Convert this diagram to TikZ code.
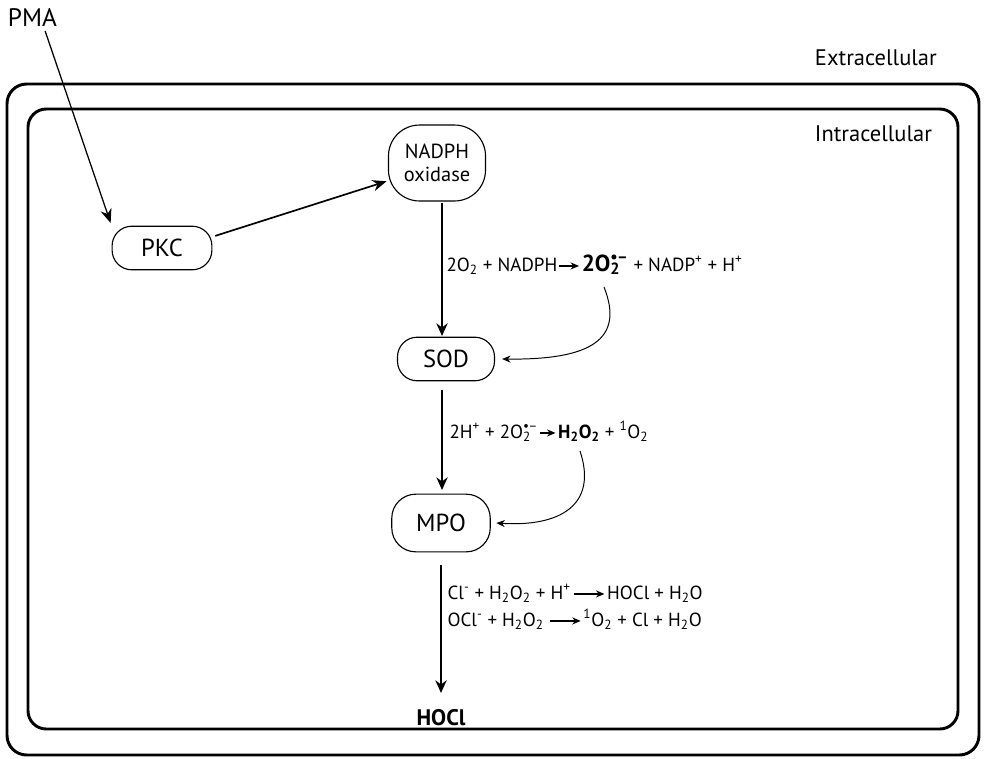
\documentclass[tikz,border=0pt]{standalone}
\usepackage{fontspec}
\setmainfont{PT Sans}
\usetikzlibrary{arrows.meta}

\newcommand{\sub}[1]{\textsubscript{#1}}
\newcommand{\sups}[1]{\textsuperscript{#1}}
\newcommand{\radsub}{\mbox{\rlap{\textsubscript{2}}\textsuperscript{\textbullet\kern-0.5pt\textendash}}}
% little reaction arrow, drawn with plain pgf so it can sit in a box
\newcommand{\rxnarrow}[1]{%
  \begin{pgfpicture}
    \pgfsetbaseline{0pt}
    \pgfsetlinewidth{0.9pt}
    \pgfsetarrowsend{Stealth[length=6pt,width=5pt]}
    \pgfpathmoveto{\pgfpoint{0pt}{3.6pt}}
    \pgfpathlineto{\pgfpoint{#1}{3.6pt}}
    \pgfusepath{stroke}
  \end{pgfpicture}}
\newcommand{\rxn}[1][15pt]{\kern1pt\rxnarrow{#1}\kern1.5pt}
\newcommand{\longrxn}{\kern1.5pt\rxnarrow{22pt}\kern1.5pt}

\begin{document}
\begin{tikzpicture}[x=0.025cm,y=-0.025cm,
    enzyme/.style={draw,line width=0.8pt,inner sep=0pt,
      font=\fontsize{17.5}{19}\selectfont,align=center},
    label/.style={font=\fontsize{16}{18}\selectfont,anchor=base west},
    eqn/.style={font=\fontsize{13.5}{16}\selectfont,anchor=base west,inner sep=0pt},
    main/.style={line width=1.4pt,-{Stealth[length=9pt,width=8pt]}},
    feed/.style={line width=0.7pt,-{Stealth[length=6pt,width=5pt]}}]
  \useasboundingbox (0,0) rectangle (984,758);

  % compartments
  \draw[line width=2.1pt,rounded corners=14pt] (7,84) rectangle (979,755);
  \draw[line width=2.1pt,rounded corners=13pt] (28,109) rectangle (958,729);
  \node[label] (extra) at (810,65) {Extracellular};
  \node[label] (intra) at (810,141) {Intracellular};

  % enzymes
  \node[label,font=\fontsize{18}{20}\selectfont] (pma) at (3,26) {PMA};
  \node[enzyme,minimum width=71pt,minimum height=31pt,rounded corners=14pt] (pkc) at (162,248) {PKC};
  \node[enzyme,minimum width=69pt,minimum height=54pt,rounded corners=22pt,
    font=\fontsize{14.5}{16}\selectfont] (nox) at (437,163) {NADPH\\oxidase};
  \node[enzyme,minimum width=69pt,minimum height=31pt,rounded corners=14pt] (sod) at (446,359) {SOD};
  \node[enzyme,minimum width=70pt,minimum height=41pt,rounded corners=17pt] (mpo) at (441,523) {MPO};
  \node[font=\fontsize{16}{18}\selectfont\bfseries] (hocl) at (441,718) {HOCl};

  % reactions
  \node[eqn] (r1) at (446,271) {2O\sub{2} + NADPH\rxn[14pt]{\fontsize{16.5}{18}\selectfont\bfseries 2O\radsub} + NADP\sups{+} + H\sups{+}};
  \node[eqn] (r2) at (449,438) {2H\sups{+} + 2O\radsub\rxn[11pt]{\bfseries H\sub{2}O\sub{2}} + \sups{1}O\sub{2}};
  \node[eqn] (r3) at (447,599) {Cl\sups{-} + H\sub{2}O\sub{2} + H\sups{+}\longrxn HOCl + H\sub{2}O};
  \node[eqn] (r4) at (447,626) {OCl\sups{-} + H\sub{2}O\sub{2}\,\longrxn\sups{1}O\sub{2} + Cl + H\sub{2}O};

  \coordinate (o1) at (604,287);
  \coordinate (o2) at (580,451);

  % pathway
  \draw[line width=0.9pt,-{Stealth[length=10pt,width=8pt]},shorten >=2pt] ([xshift=9pt]pma.south) -- (pkc.north west);
  \draw[line width=1.2pt,-{Stealth[length=10pt,width=8pt]},shorten <=2pt,shorten >=1pt] ([yshift=8pt]pkc.east) -- (nox.200);
  \draw[main] (442,203) -- (442,336);
  \draw[main] (442,390) -- (442,490);
  \draw[main] (441,565) -- (441,693);
  \draw[feed] (o1) .. controls (625,340) and (590,360) .. ([xshift=5pt]sod.east);
  \draw[feed] (o2) .. controls (598,505) and (560,527) .. ([xshift=4pt]mpo.east);
\end{tikzpicture}
\end{document}
